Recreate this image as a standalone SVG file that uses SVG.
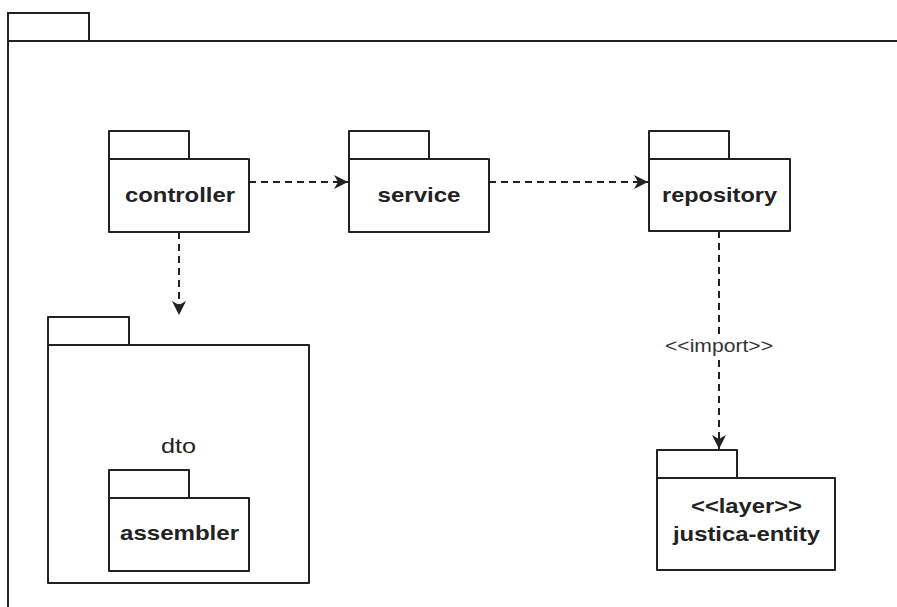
<svg xmlns="http://www.w3.org/2000/svg" width="897" height="607" viewBox="0 0 897 607">
  <style>
    .pkg { fill: #ffffff; stroke: #222222; stroke-width: 2; stroke-linejoin: round; }
    .frame { fill: none; stroke: #222222; stroke-width: 2; }
    .dep { fill: none; stroke: #222222; stroke-width: 2; stroke-dasharray: 7 5; }
    .lbl { font-family: "Liberation Sans", Arial, sans-serif; font-size: 21px; font-weight: bold; fill: #222222; text-anchor: middle; }
    .plain { font-family: "Liberation Sans", Arial, sans-serif; font-size: 21px; fill: #222222; text-anchor: middle; }
    .stereo { font-family: "Liberation Sans", Arial, sans-serif; font-size: 18px; fill: #333333; text-anchor: middle; }
  </style>
  <defs>
    <marker id="arrow" markerUnits="userSpaceOnUse" markerWidth="16" markerHeight="16" viewBox="0 0 16 16" refX="14" refY="8" orient="auto">
      <path d="M0,1 L14,8 L0,15 L4,8 Z" fill="#222222"/>
    </marker>
  </defs>

  <rect width="897" height="607" fill="#ffffff"/>

  <!-- enclosing package frame -->
  <g id="frame">
    <rect class="frame" x="8" y="13" width="81" height="28"/>
    <path class="frame" d="M8,41 H897 M8,41 V607"/>
  </g>

  <!-- dependencies -->
  <g id="connectors">
    <path class="dep" d="M249,182 H348" marker-end="url(#arrow)"/>
    <path class="dep" d="M489,182 H648" marker-end="url(#arrow)"/>
    <path class="dep" d="M179,232 V315" marker-end="url(#arrow)"/>
    <path class="dep" d="M719,231 V337 M719,360 V449" marker-end="url(#arrow)"/>
    <text class="stereo" x="719" y="352" textLength="108" lengthAdjust="spacingAndGlyphs">&lt;&lt;import&gt;&gt;</text>
  </g>

  <g id="controller">
    <rect class="pkg" x="109" y="131" width="80" height="28"/>
    <rect class="pkg" x="109" y="159" width="140" height="73"/>
    <text class="lbl" x="180" y="202" textLength="110" lengthAdjust="spacingAndGlyphs">controller</text>
  </g>

  <g id="service">
    <rect class="pkg" x="349" y="131" width="80" height="28"/>
    <rect class="pkg" x="349" y="159" width="140" height="73"/>
    <text class="lbl" x="419" y="202" textLength="83" lengthAdjust="spacingAndGlyphs">service</text>
  </g>

  <g id="repository">
    <rect class="pkg" x="649" y="131" width="80" height="28"/>
    <rect class="pkg" x="649" y="159" width="141" height="72"/>
    <text class="lbl" x="719.5" y="202" textLength="115" lengthAdjust="spacingAndGlyphs">repository</text>
  </g>

  <g id="dto">
    <rect class="pkg" x="48" y="317" width="81" height="28"/>
    <rect class="pkg" x="48" y="345" width="261" height="238"/>
    <text class="plain" x="178.5" y="453" textLength="35" lengthAdjust="spacingAndGlyphs">dto</text>
  </g>

  <g id="assembler">
    <rect class="pkg" x="109" y="470" width="80" height="28"/>
    <rect class="pkg" x="109" y="498" width="140" height="73"/>
    <text class="lbl" x="179.5" y="540" textLength="119" lengthAdjust="spacingAndGlyphs">assembler</text>
  </g>

  <g id="justica-entity">
    <rect class="pkg" x="657" y="450" width="80" height="28"/>
    <rect class="pkg" x="657" y="478" width="178" height="92"/>
    <text class="lbl" x="746.5" y="513" textLength="111" lengthAdjust="spacingAndGlyphs">&lt;&lt;layer&gt;&gt;</text>
    <text class="lbl" x="746.5" y="541" textLength="147" lengthAdjust="spacingAndGlyphs">justica-entity</text>
  </g>
</svg>
